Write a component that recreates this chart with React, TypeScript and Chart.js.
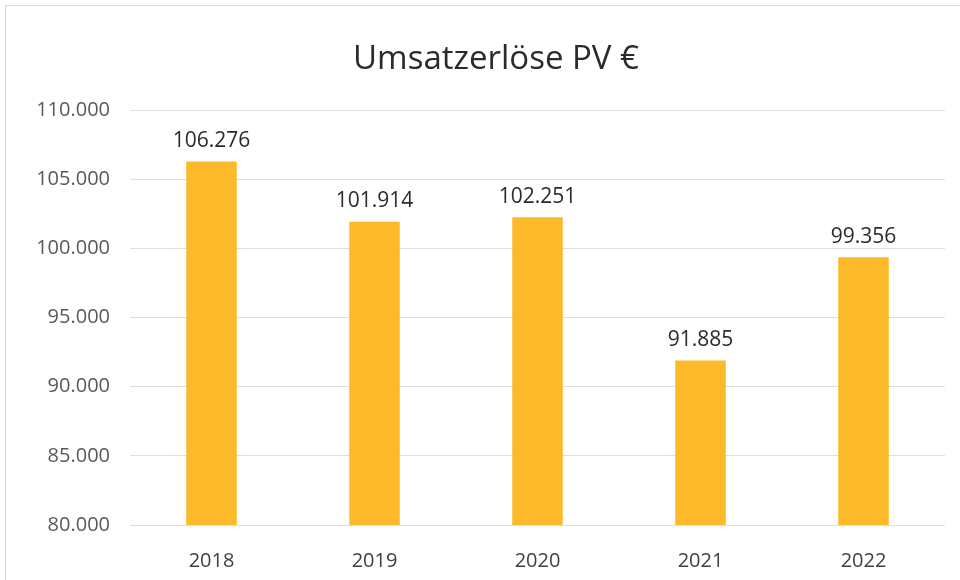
import React, { useEffect, useRef } from "react";
import { Chart, registerables } from "chart.js";

Chart.register(...registerables);

const categories = ["2018", "2019", "2020", "2021", "2022"];
const revenues = [106276, 101914, 102251, 91885, 99356];
const titleText = "Umsatzerlöse PV €";
const yMin = 80000;
const yMax = 110000;
const yStep = 5000;

const fmt = (v: number) => v.toLocaleString("de-DE");

const FONT = "'Open Sans', 'DejaVu Sans', sans-serif";

export default function App() {
  const ref = useRef<HTMLCanvasElement | null>(null);
  useEffect(() => {
    document.body.style.margin = "0";
    const canvas = ref.current;
    if (!canvas) return;
    const deco = {
      id: "deco",
      beforeDraw(chart: any) {
        const ctx = chart.ctx;
        ctx.save();
        ctx.fillStyle = "#ffffff";
        ctx.fillRect(0, 0, chart.width, chart.height);
        ctx.strokeStyle = "#d9d9d9";
        ctx.lineWidth = 1;
        ctx.strokeRect(5.5, 5.5, chart.width + 10, chart.height + 10);
        ctx.restore();
      },
      afterDatasetsDraw(chart: any) {
        const ctx = chart.ctx;
        ctx.save();
        ctx.fillStyle = "#2b2b2b";
        ctx.font = `33px ${FONT}`;
        ctx.textAlign = "center";
        ctx.textBaseline = "middle";
        ctx.fillText(titleText, 496, 60);
        const meta = chart.getDatasetMeta(0);
        ctx.font = `21px ${FONT}`;
        ctx.fillStyle = "#2b2b2b";
        ctx.textBaseline = "bottom";
        meta.data.forEach((bar: any, i: number) => {
          ctx.fillText(fmt(revenues[i]), bar.x, bar.y - 10);
        });
        ctx.restore();
      },
    };
    const chart = new Chart(canvas, {
      type: "bar",
      data: {
        labels: categories,
        datasets: [
          {
            data: revenues,
            backgroundColor: "#FCBA2A",
            barPercentage: 0.31,
            categoryPercentage: 1,
          },
        ],
      },
      options: {
        animation: false,
        responsive: false,
        layout: { padding: { top: 110, left: 0, right: 15, bottom: 0 } },
        plugins: { legend: { display: false }, title: { display: false }, tooltip: { enabled: false } },
        scales: {
          x: {
            grid: { display: false },
            border: { display: false },
            ticks: { color: "#404040", font: { family: FONT, size: 20 }, padding: 16 },
            afterFit: (s: any) => { s.height = 55; },
          },
          y: {
            min: yMin,
            max: yMax,
            ticks: {
              stepSize: yStep,
              color: "#595959",
              font: { family: FONT, size: 20 },
              padding: 20,
              callback: (v: any) => fmt(Number(v)),
            },
            grid: { color: "#dedede", drawTicks: false },
            border: { display: false },
            afterFit: (s: any) => { s.width = 130; },
          },
        },
      },
      plugins: [deco],
    });
    return () => chart.destroy();
  }, []);
  return (
    <div style={{ width: 960, height: 580 }}>
      <canvas ref={ref} width={960} height={580} />
    </div>
  );
}
